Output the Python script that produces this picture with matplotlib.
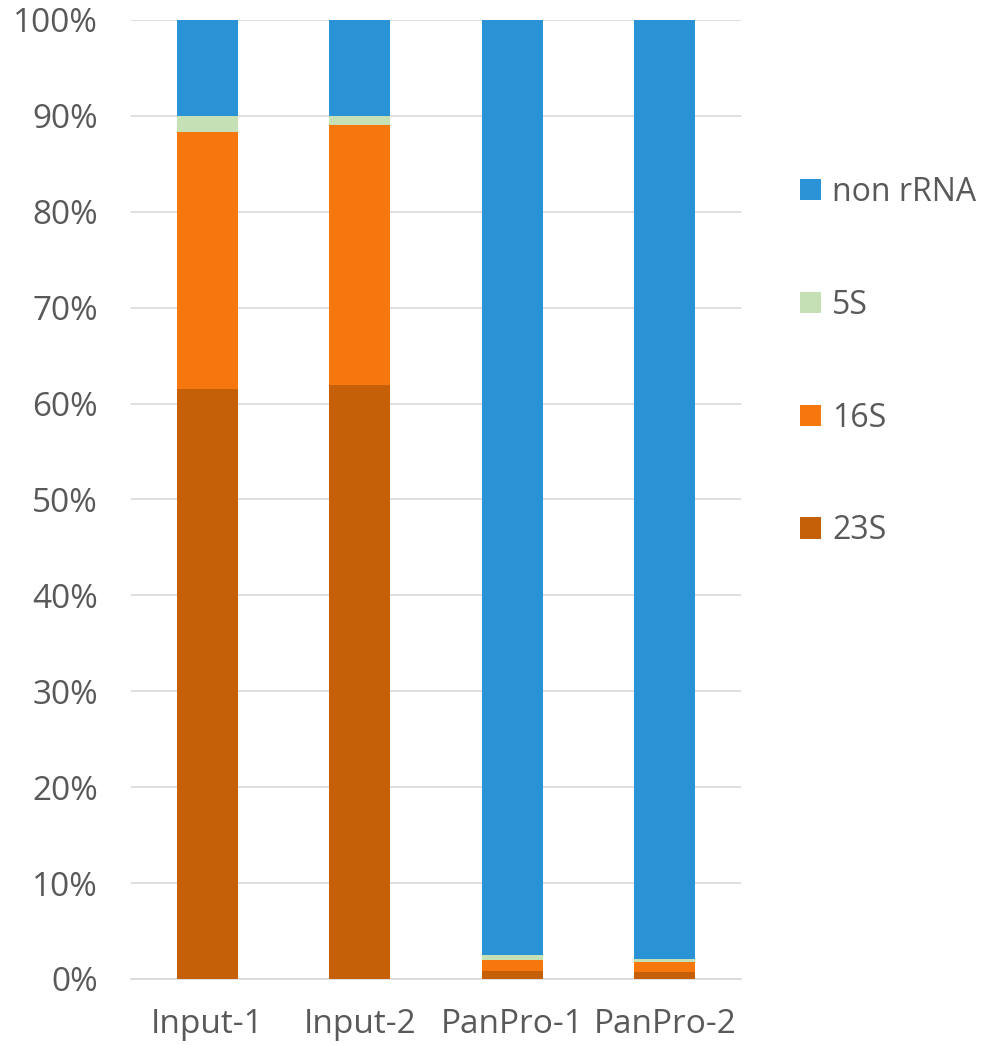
import numpy as np
import matplotlib.pyplot as plt
from matplotlib.ticker import PercentFormatter

# rRNA composition per sample (percent of reads)
samples = ['Input-1', 'Input-2', 'PanPro-1', 'PanPro-2']
rrna_23s = [61.5, 61.9, 0.8, 0.7]
rrna_16s = [26.8, 27.1, 1.2, 1.1]
rrna_5s = [1.7, 1.0, 0.45, 0.3]
non_rrna = [10.0, 10.0, 97.55, 97.9]

series = [('23S', rrna_23s, '#C55F08'),
          ('16S', rrna_16s, '#F5770D'),
          ('5S', rrna_5s, '#C5E0B4'),
          ('non rRNA', non_rrna, '#2A93D5')]

plt.rcParams['font.family'] = ['Open Sans', 'DejaVu Sans']
text_color = '#595959'

fig = plt.figure(figsize=(9.82, 10.45), dpi=100)
ax = fig.add_axes([0.1335, 0.0632, 0.6212, 0.9177])

x = np.arange(len(samples))
bottom = np.zeros(len(samples))
handles = []
for name, vals, color in series:
    b = ax.bar(x, vals, width=0.4, bottom=bottom, color=color, label=name, zorder=3)
    handles.append(b)
    bottom += np.array(vals)

ax.set_xlim(-0.5, len(samples) - 0.5)
ax.set_ylim(0, 100)
ax.set_yticks(np.arange(0, 101, 10))
ax.yaxis.set_major_formatter(PercentFormatter(decimals=0))
ax.set_xticks(x)
ax.set_xticklabels(samples)

ax.grid(axis='y', color='#D9D9D9', linewidth=1.2, zorder=0)
for side in ['top', 'right', 'left']:
    ax.spines[side].set_visible(False)
ax.spines['bottom'].set_color('#D9D9D9')
ax.spines['bottom'].set_linewidth(1.2)
ax.tick_params(length=0, labelsize=24, colors=text_color)
ax.tick_params(axis='y', pad=24)
ax.tick_params(axis='x', pad=21)

leg = fig.legend(handles[::-1], [s[0] for s in series][::-1],
                 loc='center left', bbox_to_anchor=(0.7855, 0.654),
                 frameon=False, fontsize=23, labelcolor=text_color,
                 handlelength=0.66, handleheight=0.66, handletextpad=0.34,
                 labelspacing=2.5)

fig.savefig('out.png', dpi=100)
